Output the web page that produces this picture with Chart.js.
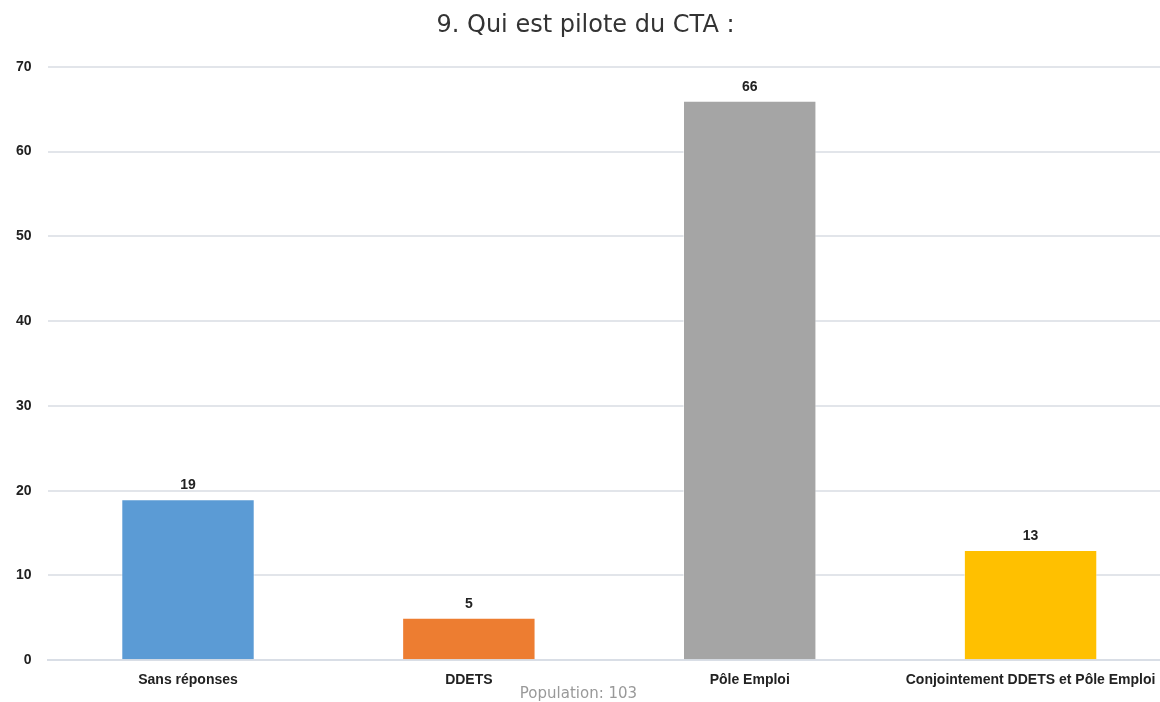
<!DOCTYPE html>
<html>
<head>
<meta charset="utf-8">
<script src="https://cdn.jsdelivr.net/npm/chart.js@4"></script>
<style>
  body { margin: 0; background: #fff; overflow: hidden; }
  #wrap { width: 1171px; height: 702px; position: relative; }
</style>
</head>
<body>
<div id="wrap"><canvas id="cta"></canvas></div>
<script>
// data
const categories = ["Sans réponses", "DDETS", "Pôle Emploi", "Conjointement DDETS et Pôle Emploi"];
const values = [19, 5, 66, 13];
const barColors = ["#5b9bd5", "#ed7d31", "#a5a5a5", "#ffc000"];
const yTicks = [0, 10, 20, 30, 40, 50, 60, 70];
const population = "Population: 103";

// value above each bar + population note under the axis
const valueLabels = {
  id: "valueLabels",
  afterDatasetsDraw(chart) {
    const ctx = chart.ctx;
    const meta = chart.getDatasetMeta(0);
    ctx.save();
    ctx.font = "bold 14px 'Liberation Sans', Arial, sans-serif";
    ctx.fillStyle = "#222";
    ctx.textAlign = "center";
    ctx.textBaseline = "bottom";
    meta.data.forEach((bar, i) => {
      ctx.fillText(values[i], bar.x, bar.y - 7);
    });
    ctx.font = "15px 'DejaVu Sans', sans-serif";
    ctx.fillStyle = "#999";
    ctx.textBaseline = "middle";
    ctx.fillText(population, chart.width * 0.494, chart.chartArea.bottom + 34);
    ctx.restore();
  },
};

new Chart(document.getElementById("cta"), {
  type: "bar",
  data: {
    labels: categories,
    datasets: [
      {
        data: values,
        backgroundColor: barColors,
        borderColor: "rgba(255,255,255,0.5)",
        borderWidth: 1,
        barPercentage: 0.475,
        categoryPercentage: 1,
      },
    ],
  },
  options: {
    animation: false,
    responsive: true,
    maintainAspectRatio: false,
    layout: { padding: { left: 0, right: 0, top: 0, bottom: 1 } },
    plugins: {
      legend: { display: false },
      tooltip: { enabled: false },
      title: {
        display: true,
        text: "9. Qui est pilote du CTA :",
        color: "#333",
        font: { size: 24, family: "'DejaVu Sans', sans-serif", weight: "normal" },
        padding: { top: 11, bottom: 27 },
      },
    },
    scales: {
      x: {
        grid: { display: false, drawTicks: false },
        border: { color: "#d9dee6", width: 2 },
        ticks: {
          color: "#222",
          padding: 12,
          maxRotation: 0,
          autoSkip: false,
          font: { size: 14, weight: "bold", family: "'Liberation Sans', Arial, sans-serif" },
        },
      },
      y: {
        min: 0,
        max: 70,
        afterBuildTicks: (axis) => {
          axis.ticks = yTicks.map((v) => ({ value: v }));
        },
        grid: { color: "#e2e5ea", lineWidth: 2, drawTicks: false },
        border: { display: false },
        ticks: {
          color: "#222",
          padding: 16,
          font: { size: 14, weight: "bold", family: "'Liberation Sans', Arial, sans-serif" },
        },
      },
    },
  },
  plugins: [valueLabels],
});
</script>
</body>
</html>
